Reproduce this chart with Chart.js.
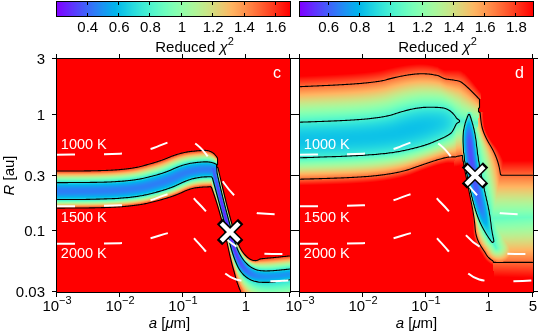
<!DOCTYPE html>
<html>
<head>
<meta charset="utf-8">
<script src="https://cdn.jsdelivr.net/npm/chart.js@4.4.0/dist/chart.umd.min.js"></script>
<style>
  html, body { margin: 0; padding: 0; background: #fff; }
  #wrap { position: relative; width: 538px; height: 335px; }
  #wrap canvas { position: absolute; left: 0; top: 0; }
</style>
</head>
<body>
<div id="wrap">
  <canvas id="panel-c" width="538" height="335"></canvas>
  <canvas id="panel-d" width="538" height="335"></canvas>
</div>
<script>
// ---- axes ----
const aMin = 0.001, aMax = 5;
const rMin = 0.03, rMax = 3;
const aTicks = [0.001, 0.01, 0.1, 1, 5];
const aTickBase = ['10', '10', '10', '1', '5'];
const aTickExp = ['\u22123', '\u22122', '\u22121', '', ''];
const rTicks = [3, 1, 0.3, 0.1, 0.03];
const rTickLabels = ['3', '1', '0.3', '0.1', '0.03'];

// ---- colour bars (reduced chi^2) ----
const cbRangeC = [0.204, 1.69];
const cbTicksC = [0.4, 0.6, 0.8, 1, 1.2, 1.4, 1.6];
const cbRangeD = [0.417, 1.906];
const cbTicksD = [0.6, 0.8, 1, 1.2, 1.4, 1.6, 1.8];

// contour levels drawn in black
const levelsC = [0.7, 1.6];
const levelsD = [1.0, 1.7];

// ---- chi^2 valley, panel c (a in um, R in au, widths in dex of R) ----
// upper branch
const c1A = [3.7e-4, 0.012, 0.0518, 0.1076, 0.186, 0.2685, 0.3467];
const c1R = [0.2205, 0.2205, 0.264, 0.3199, 0.3376, 0.3396, 0.3344];
const c1Min = [0.45, 0.45, 0.45, 0.45, 0.45, 0.45, 0.42];
const c1InTop = [0.073, 0.073, 0.072, 0.069, 0.065, 0.065, 0.045];
const c1InBot = [0.073, 0.073, 0.071, 0.069, 0.065, 0.065, 0.060];
const c1OutTop = [0.172, 0.172, 0.181, 0.172, 0.163, 0.163, 0.095];
const c1OutBot = [0.146, 0.146, 0.143, 0.146, 0.151, 0.151, 0.140];
// steep drop and lower branch
const c2A = [0.299, 0.401, 0.547, 0.693, 1.0, 1.795, 7.2];
const c2R = [0.3464, 0.1837, 0.0975, 0.0618, 0.0441, 0.0396, 0.0437];
const c2Min = [0.40, 0.28, 0.25, 0.30, 0.42, 0.50, 0.50];
const c2InTop = [0.026, 0.021, 0.021, 0.026, 0.052, 0.050, 0.043];
const c2InBot = [0.026, 0.021, 0.021, 0.026, 0.043, 0.050, 0.043];
const c2OutTop = [0.043, 0.038, 0.038, 0.052, 0.120, 0.163, 0.155];
const c2OutBot = [0.069, 0.038, 0.038, 0.052, 0.103, 0.344, 0.344];

// ---- chi^2 valley, panel d ----
// broad upper branch
const d1A = [4.8e-4, 0.0193, 0.0747, 0.1668, 0.2317, 0.278, 0.322, 0.668];
const d1R = [0.597, 0.637, 0.780, 0.853, 0.872, 0.881, 0.881, 0.845];
const d1Min = [0.83, 0.83, 0.82, 0.85, 0.90, 0.96, 1.0, 1.05];
const d1InTop = [0.153, 0.154, 0.172, 0.136, 0.110, 0.065, 0, 0];
const d1InBot = [0.153, 0.153, 0.172, 0.136, 0.110, 0.065, 0, 0];
const d1OutTop = [0.456, 0.465, 0.465, 0.430, 0.370, 0.355, 0.340, 0.198];
const d1OutBot = [0.335, 0.340, 0.318, 0.301, 0.305, 0.310, 0.310, 0.258];
// steep narrow valley
const d2A = [0.482, 0.482, 0.518, 0.622, 0.803, 1.0, 1.29];
const d2R = [1.05, 0.707, 0.406, 0.224, 0.1365, 0.0955, 0.0716];
const d2Min = [1.05, 0.58, 0.55, 0.58, 0.68, 0.92, 1.05];
const d2InTop = [0, 0.052, 0.060, 0.069, 0.060, 0.026, 0];
const d2InBot = [0, 0.060, 0.060, 0.052, 0.052, 0.026, 0];
const d2OutTop = [0.095, 0.112, 0.230, 0.230, 0.215, 0.189, 0.170];
const d2OutBot = [0.086, 0.077, 0.069, 0.060, 0.077, 0.120, 0.100];
// wide shallow region at large grains
const d3A = [1.116, 13.4];
const d3R = [0.1287, 0.1338];
const d3Min = [1.08, 1.12];
const d3InTop = [0, 0];
const d3InBot = [0, 0];
const d3OutTop = [0.370, 0.353];
const d3OutBot = [0.378, 0.396];

// ---- dust temperature curves (same in both panels) ----
const tempA = [0.001, 0.01, 0.03, 0.06, 0.11, 0.17, 0.26, 0.45, 0.7, 1.6, 5];
const temp1000R = [0.4525, 0.4615, 0.5045, 0.5796, 0.6090, 0.5461, 0.4221, 0.2573, 0.1950, 0.1420, 0.1392];
const temp1500R = [0.1632, 0.1664, 0.1837, 0.2090, 0.2175, 0.1766, 0.1365, 0.0901, 0.0739, 0.0643, 0.0637];
const temp2000R = [0.0779, 0.0788, 0.0866, 0.0965, 0.0994, 0.0804, 0.0618, 0.0441, 0.0384, 0.0369, 0.0377];
const tempLabels = ['1000 K', '1500 K', '2000 K'];
const tempLabelA = [0.00115, 0.00115, 0.00115];
const tempLabelR = [0.546, 0.130, 0.063];

// best fit (white cross): panel c, panel d
const bestA = [0.56, 0.6];
const bestR = [0.098, 0.30];

const FONT = "'Liberation Sans', Arial, Helvetica, sans-serif";

// rainbow colour map
function rainbow(t) {
    t = Math.max(0, Math.min(1, t));
    const r = Math.min(1, Math.abs(2 * t - 0.5));
    const g = Math.sin(Math.PI * t);
    const b = Math.cos(Math.PI * t / 2);
    return [Math.round(255 * r), Math.round(255 * g), Math.round(255 * b)];
}

function lerp(p, q, t) {
    return p + (q - p) * t;
}

// chi^2 across the valley: minimum at the centre, inner level at wi, outer level at wo
function profile(d, vm, wi, wo, lo, hi) {
    if (vm < lo && wi > 0.05) {
        if (d <= wi) return vm + (lo - vm) * (d / wi) * (d / wi);
        return lo + (hi - lo) * (d - wi) / Math.max(wo - wi, 0.5);
    }
    return vm + (hi - vm) * d / Math.max(wo, 0.5);
}

// convert a valley path to pixel nodes, rounded off with a few Chaikin passes
function buildNodes(path, xs, ys) {
    const pxPerDex = ys.getPixelForValue(0.1) - ys.getPixelForValue(1);
    const keys = ['x', 'y', 'v', 'it', 'ib', 'ot', 'ob'];
    let nodes = path.a.map((a, k) => ({
        x: xs.getPixelForValue(a),
        y: ys.getPixelForValue(path.R[k]),
        v: path.vmin[k],
        it: path.inTop[k] * pxPerDex,
        ib: path.inBot[k] * pxPerDex,
        ot: path.outTop[k] * pxPerDex,
        ob: path.outBot[k] * pxPerDex
    }));
    const mix = (p, q, f) => {
        const o = {};
        keys.forEach(key => { o[key] = p[key] + (q[key] - p[key]) * f; });
        return o;
    };
    for (let pass = 0; pass < 4; pass++) {
        const out = [nodes[0]];
        for (let k = 0; k < nodes.length - 1; k++) {
            if (k > 0) out.push(mix(nodes[k], nodes[k + 1], 0.25));
            if (k < nodes.length - 2) out.push(mix(nodes[k], nodes[k + 1], 0.75));
        }
        out.push(nodes[nodes.length - 1]);
        nodes = out;
    }
    return nodes;
}

function segT(A, B, px, py) {
    const dx = B.x - A.x, dy = B.y - A.y;
    return ((px - A.x) * dx + (py - A.y) * dy) / (dx * dx + dy * dy);
}

function pathValue(nodes, path, px, py, lo, hi) {
    let best = Infinity;
    const last = nodes.length - 2;
    for (let k = 0; k <= last; k++) {
        const A = nodes[k], B = nodes[k + 1];
        const dx = B.x - A.x, dy = B.y - A.y;
        const len2 = dx * dx + dy * dy;
        if (len2 < 1e-9) continue;
        let t = ((px - A.x) * dx + (py - A.y) * dy) / len2;
        if (t < 0) {
            if (k === 0) {
                if (path.capStart === 'cut') continue;
            } else if (segT(nodes[k - 1], A, px, py) <= 1) {
                continue;
            }
            t = 0;
        }
        if (t > 1) {
            if (k === last) {
                if (path.capEnd === 'cut') continue;
            } else if (segT(B, nodes[k + 2], px, py) >= 0) {
                continue;
            }
            t = 1;
        }
        const qx = A.x + t * dx, qy = A.y + t * dy;
        const d = Math.hypot(px - qx, py - qy);
        const cross = dx * (py - A.y) - dy * (px - A.x);
        let s = d > 1e-6 ? cross / (Math.sqrt(len2) * d) : 0;
        s = Math.max(-1, Math.min(1, s));
        const fTop = (1 - s) / 2;
        const wi = lerp(A.it, B.it, t) * fTop + lerp(A.ib, B.ib, t) * (1 - fTop);
        const wo = lerp(A.ot, B.ot, t) * fTop + lerp(A.ob, B.ob, t) * (1 - fTop);
        const val = profile(d, lerp(A.v, B.v, t), wi, wo, lo, hi);
        if (val < best) best = val;
    }
    return best;
}

// marching squares on the pixel grid
function drawContour(ctx, grid, w, h, level, ox, oy) {
    ctx.beginPath();
    for (let j = 0; j < h - 1; j++) {
        for (let i = 0; i < w - 1; i++) {
            const v0 = grid[j * w + i], v1 = grid[j * w + i + 1];
            const v2 = grid[(j + 1) * w + i + 1], v3 = grid[(j + 1) * w + i];
            const idx = (v0 > level ? 1 : 0) | (v1 > level ? 2 : 0) | (v2 > level ? 4 : 0) | (v3 > level ? 8 : 0);
            if (idx === 0 || idx === 15) continue;
            const e = [
                () => [i + (level - v0) / (v1 - v0), j],
                () => [i + 1, j + (level - v1) / (v2 - v1)],
                () => [i + (level - v3) / (v2 - v3), j + 1],
                () => [i, j + (level - v0) / (v3 - v0)]
            ];
            const segs = {
                1: [[3, 0]], 2: [[0, 1]], 3: [[3, 1]], 4: [[1, 2]], 5: [[3, 0], [1, 2]],
                6: [[0, 2]], 7: [[3, 2]], 8: [[2, 3]], 9: [[0, 2]], 10: [[0, 1], [2, 3]],
                11: [[1, 2]], 12: [[1, 3]], 13: [[0, 1]], 14: [[0, 3]]
            }[idx];
            segs.forEach(sg => {
                const p = e[sg[0]](), q = e[sg[1]]();
                ctx.moveTo(ox + p[0] + 0.5, oy + p[1] + 0.5);
                ctx.lineTo(ox + q[0] + 0.5, oy + q[1] + 0.5);
            });
        }
    }
    ctx.stroke();
}

function setFont(ctx, size, italic) {
    ctx.font = (italic ? 'italic ' : '') + size + 'px ' + FONT;
}

// text made of pieces: [text, size, italic, rise]
function drawParts(ctx, parts, x, y, align) {
    let total = 0;
    parts.forEach(p => { setFont(ctx, p[1], p[2]); total += ctx.measureText(p[0]).width; });
    let cx = align === 'center' ? x - total / 2 : (align === 'right' ? x - total : x);
    ctx.textAlign = 'left';
    parts.forEach(p => {
        setFont(ctx, p[1], p[2]);
        ctx.fillText(p[0], cx, y - (p[3] || 0));
        cx += ctx.measureText(p[0]).width;
    });
}

// heat map and contours
function drawHeatmap(chart, cfg) {
    const ctx = chart.ctx;
    const xs = chart.scales.x, ys = chart.scales.y;
    const area = chart.chartArea;
    const left = Math.round(area.left), top = Math.round(area.top);
    const w = Math.round(area.right) - left, h = Math.round(area.bottom) - top;
    const lo = cfg.levels[0], hi = cfg.levels[1];
    const paths = cfg.paths.map(p => ({ path: p, nodes: buildNodes(p, xs, ys) }));

    const grid = new Float32Array(w * h);
    for (let j = 0; j < h; j++) {
        for (let i = 0; i < w; i++) {
            const px = left + i + 0.5, py = top + j + 0.5;
            let v = Infinity;
            paths.forEach(p => {
                const pv = pathValue(p.nodes, p.path, px, py, lo, hi);
                if (pv < v) v = pv;
            });
            grid[j * w + i] = Math.min(v, 10);
        }
    }

    const off = document.createElement('canvas');
    off.width = w;
    off.height = h;
    const octx = off.getContext('2d');
    const img = octx.createImageData(w, h);
    const span = cfg.cbRange[1] - cfg.cbRange[0];
    for (let k = 0; k < w * h; k++) {
        const c = rainbow((grid[k] - cfg.cbRange[0]) / span);
        img.data[4 * k] = c[0];
        img.data[4 * k + 1] = c[1];
        img.data[4 * k + 2] = c[2];
        img.data[4 * k + 3] = 255;
    }
    octx.putImageData(img, 0, 0);
    ctx.save();
    ctx.drawImage(off, left, top);
    ctx.beginPath();
    ctx.rect(left, top, w, h);
    ctx.clip();
    ctx.strokeStyle = '#000';
    ctx.lineWidth = 1.1;
    ctx.lineCap = 'round';
    cfg.levels.forEach(level => drawContour(ctx, grid, w, h, level, left, top));
    ctx.restore();
}

// frame, ticks, axis labels and colour bar
function drawFrame(chart, cfg) {
    const ctx = chart.ctx;
    const xs = chart.scales.x, ys = chart.scales.y, cb = chart.scales.cb;
    const { left, right, top, bottom } = chart.chartArea;
    ctx.save();
    ctx.strokeStyle = '#000';
    ctx.fillStyle = '#000';
    ctx.lineWidth = 1;
    ctx.strokeRect(left - 0.5, top - 0.5, right - left + 1, bottom - top + 1);

    // outward ticks on all four sides
    ctx.beginPath();
    aTicks.forEach(v => {
        const x = Math.round(xs.getPixelForValue(v)) - 0.5;
        ctx.moveTo(x, bottom); ctx.lineTo(x, bottom + 5);
        ctx.moveTo(x, top); ctx.lineTo(x, top - 5);
    });
    rTicks.forEach(v => {
        const y = Math.round(ys.getPixelForValue(v)) - 0.5;
        ctx.moveTo(left, y); ctx.lineTo(left - 5, y);
        ctx.moveTo(right, y); ctx.lineTo(right + 5, y);
    });
    ctx.stroke();

    // x tick labels
    ctx.textBaseline = 'alphabetic';
    for (let k = 0; k < cfg.xLabelCount; k++) {
        const x = xs.getPixelForValue(aTicks[k]);
        drawParts(ctx, [[aTickBase[k], 15, false], [aTickExp[k], 11, false, 7]], x, 311, 'center');
    }
    drawParts(ctx, [['a', 15, true], [' [', 15, false], ['\u03bc', 15, true], ['m]', 15, false]],
        (left + right) / 2 + cfg.xTitleShift, 328, 'center');

    // y tick labels and title
    if (cfg.showYLabels) {
        ctx.textBaseline = 'middle';
        setFont(ctx, 15, false);
        ctx.textAlign = 'right';
        rTicks.forEach((v, k) => ctx.fillText(rTickLabels[k], left - 12, ys.getPixelForValue(v) + 1));
        ctx.save();
        ctx.translate(13.5, (top + bottom) / 2);
        ctx.rotate(-Math.PI / 2);
        ctx.textBaseline = 'alphabetic';
        drawParts(ctx, [['R', 15, true], [' [au]', 15, false]], 0, 0, 'center');
        ctx.restore();
    }

    // colour bar
    const span = cfg.cbRange[1] - cfg.cbRange[0];
    for (let px = Math.round(cb.left); px < Math.round(cb.right); px++) {
        const c = rainbow((cb.getValueForPixel(px + 0.5) - cfg.cbRange[0]) / span);
        ctx.fillStyle = 'rgb(' + c.join(',') + ')';
        ctx.fillRect(px, 2, 1, 14);
    }
    ctx.fillStyle = '#000';
    ctx.strokeRect(Math.round(cb.left) - 0.5, 1.5, Math.round(cb.right) - Math.round(cb.left) + 1, 15);
    ctx.beginPath();
    cfg.cbTicks.forEach(t => {
        const x = Math.round(cb.getPixelForValue(t)) - 0.5;
        ctx.moveTo(x, 2); ctx.lineTo(x, 5);
        ctx.moveTo(x, 16); ctx.lineTo(x, 13);
    });
    ctx.stroke();
    ctx.textBaseline = 'alphabetic';
    setFont(ctx, 15, false);
    ctx.textAlign = 'center';
    cfg.cbTicks.forEach(t => ctx.fillText(String(t), cb.getPixelForValue(t), 32));
    drawParts(ctx, [['Reduced ', 15, false], ['\u03c7', 15, true], ['2', 11, false, 7]],
        (cb.left + cb.right) / 2 + 21, 52, 'center');
    ctx.restore();
}

// in-plot white labels
function drawLabels(chart, cfg) {
    const ctx = chart.ctx;
    const xs = chart.scales.x, ys = chart.scales.y;
    const { right, top } = chart.chartArea;
    ctx.save();
    ctx.fillStyle = '#fff';
    ctx.textBaseline = 'middle';
    ctx.textAlign = 'left';
    setFont(ctx, 14.5, false);
    tempLabels.forEach((t, k) => ctx.fillText(t, xs.getPixelForValue(tempLabelA[k]), ys.getPixelForValue(tempLabelR[k])));
    ctx.textAlign = 'right';
    ctx.textBaseline = 'alphabetic';
    setFont(ctx, 16, false);
    ctx.fillText(cfg.letter, right - 9, top + 19);
    ctx.restore();
}

function makePanelPlugin(cfg) {
    return {
        id: 'panel',
        beforeDatasetsDraw(chart) { drawHeatmap(chart, cfg); },
        afterDatasetsDraw(chart) { drawLabels(chart, cfg); },
        afterDraw(chart) { drawFrame(chart, cfg); }
    };
}

function tempDataset(R) {
    return {
        type: 'line',
        data: tempA.map((a, k) => ({ x: a, y: R[k] })),
        borderColor: '#fff',
        borderWidth: 2,
        borderDash: [18, 29],
        pointRadius: 0,
        fill: false,
        cubicInterpolationMode: 'monotone',
        order: 3
    };
}

function createPanel(cfg) {
    const ctx = document.getElementById(cfg.canvasId);
    const best = [{ x: bestA[cfg.best], y: bestR[cfg.best] }];
    return new Chart(ctx, {
        type: 'scatter',
        data: {
            datasets: [
                tempDataset(temp1000R),
                tempDataset(temp1500R),
                tempDataset(temp2000R),
                { data: best, pointStyle: 'crossRot', pointRadius: 15, borderColor: '#000', borderWidth: 7.5, order: 2 },
                { data: best, pointStyle: 'crossRot', pointRadius: 12.5, borderColor: '#fff', borderWidth: 4.5, order: 1 }
            ]
        },
        options: {
            responsive: false,
            animation: false,
            events: [],
            layout: { padding: cfg.padding, autoPadding: false },
            plugins: { legend: { display: false }, tooltip: { enabled: false } },
            scales: {
                x: { type: 'logarithmic', min: aMin, max: aMax, display: false },
                y: { type: 'logarithmic', min: rMin, max: rMax, display: false },
                cb: { type: 'linear', axis: 'x', position: 'top', min: cfg.cbRange[0], max: cfg.cbRange[1], display: false }
            }
        },
        plugins: [makePanelPlugin(cfg)]
    });
}

createPanel({
    canvasId: 'panel-c',
    padding: { left: 57, right: 248, top: 59, bottom: 43 },
    cbRange: cbRangeC, cbTicks: cbTicksC, levels: levelsC,
    paths: [
        { a: c1A, R: c1R, vmin: c1Min, inTop: c1InTop, inBot: c1InBot, outTop: c1OutTop, outBot: c1OutBot, capStart: 'round', capEnd: 'cut' },
        { a: c2A, R: c2R, vmin: c2Min, inTop: c2InTop, inBot: c2InBot, outTop: c2OutTop, outBot: c2OutBot, capStart: 'cut', capEnd: 'round' }
    ],
    letter: 'c', showYLabels: true, xLabelCount: 4, xTitleShift: -4, best: 0
});

createPanel({
    canvasId: 'panel-d',
    padding: { left: 300, right: 5, top: 59, bottom: 43 },
    cbRange: cbRangeD, cbTicks: cbTicksD, levels: levelsD,
    paths: [
        { a: d1A, R: d1R, vmin: d1Min, inTop: d1InTop, inBot: d1InBot, outTop: d1OutTop, outBot: d1OutBot, capStart: 'round', capEnd: 'cut' },
        { a: d2A, R: d2R, vmin: d2Min, inTop: d2InTop, inBot: d2InBot, outTop: d2OutTop, outBot: d2OutBot, capStart: 'cut', capEnd: 'round' },
        { a: d3A, R: d3R, vmin: d3Min, inTop: d3InTop, inBot: d3InBot, outTop: d3OutTop, outBot: d3OutBot, capStart: 'cut', capEnd: 'round' }
    ],
    letter: 'd', showYLabels: false, xLabelCount: 5, xTitleShift: 0, best: 1
});
</script>
</body>
</html>
